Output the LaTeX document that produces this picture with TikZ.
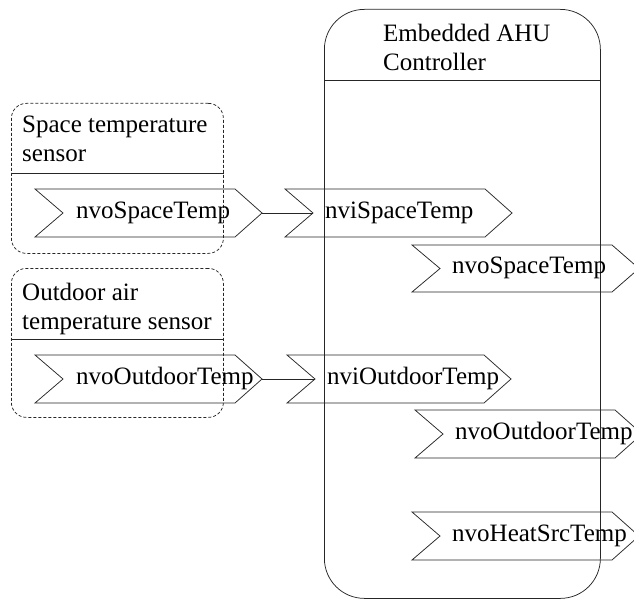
\documentclass[tikz,border=0pt]{standalone}
\usepackage{fontspec}
\setmainfont{Liberation Serif}
\newcommand\mkport[7]{%
  \pgfmathsetmacro\pmid{(#4+#5)/2}%
  \draw[portline] (#2,#4) -- (#3,#4) -- (#3+27,\pmid) -- (#3,#5) -- (#2,#5) -- (#2+28,\pmid) -- cycle;
  \coordinate (#1-in) at (#2+28,\pmid);
  \coordinate (#1-out) at (#3+27,\pmid);
  \node[lbl, anchor=base west] (#1) at (#6,\pmid+5) {#7};
}
\begin{document}
\begin{tikzpicture}[x=1pt,y=-1pt,
  portline/.style={draw=black!85, line width=0.75pt, line join=miter},
  lbl/.style={inner sep=0pt, font=\fontsize{25}{29}\selectfont},
  hdr/.style={inner sep=0pt, align=left, anchor=north west, font=\fontsize{25}{29}\selectfont},
  sensorbox/.style={draw=black!85, line width=0.75pt, dash pattern=on 3pt off 2pt, rounded corners=15pt, inner sep=0pt, anchor=north west},
  ctrlbox/.style={draw=black!85, line width=0.75pt, rounded corners=40pt, inner sep=0pt, anchor=north west},
  sepline/.style={draw=black!85, line width=0.75pt},
  wire/.style={draw=black!85, line width=0.75pt}]
\useasboundingbox (0,0) rectangle (634,599);

% controller
\node[ctrlbox, minimum width=276pt, minimum height=589pt] (ctrl) at (324,9) {};
\coordinate (ctrlsep) at (0,80);
\draw[sepline] (ctrl.west |- ctrlsep) -- (ctrl.east |- ctrlsep);
\node[hdr] (ctrltitle) at (383,24) {Embedded AHU\\Controller};

% space temperature sensor
\node[sensorbox, minimum width=212pt, minimum height=150pt] (spacebox) at (11,103) {};
\coordinate (spacesep) at (0,173);
\draw[sepline] (spacebox.west |- spacesep) -- (spacebox.east |- spacesep);
\node[hdr] (spacetitle) at (22,116) {Space temperature\\sensor};

% outdoor air temperature sensor
\node[sensorbox, minimum width=212pt, minimum height=149pt] (outbox) at (11,268) {};
\coordinate (outsep) at (0,339);
\draw[sepline] (outbox.west |- outsep) -- (outbox.east |- outsep);
\node[hdr] (outtitle) at (22,283) {Outdoor air\\temperature sensor};

% ports
\mkport{sSpace}{35}{235}{189}{237}{76}{nvoSpaceTemp}
\mkport{iSpace}{285}{485}{189}{237}{325}{nviSpaceTemp}
\mkport{oSpace}{412}{612}{245}{292}{452}{nvoSpaceTemp}
\mkport{sOut}{35}{235}{355}{403}{76}{nvoOutdoorTemp}
\mkport{iOut}{287}{484}{355}{403}{327}{nviOutdoorTemp}
\mkport{oOut}{415}{615}{410}{458}{455}{nvoOutdoorTemp}
\mkport{oHeat}{412}{612}{512}{560}{452}{nvoHeatSrcTemp}

% bindings
\draw[wire] (sSpace-out) -- (iSpace-in);
\draw[wire] (sOut-out) -- (iOut-in);
\end{tikzpicture}
\end{document}
